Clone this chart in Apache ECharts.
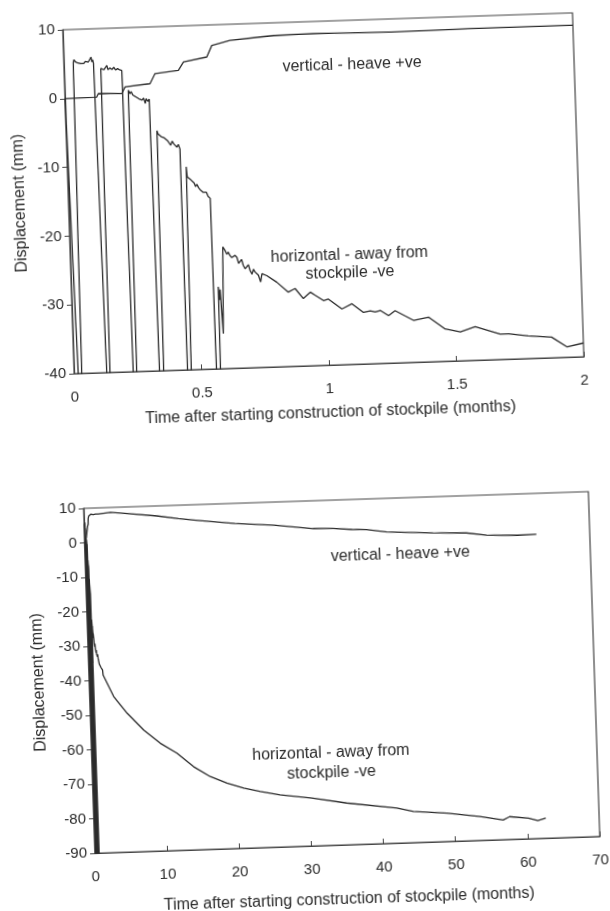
<!DOCTYPE html>
<html>
<head>
<meta charset="utf-8">
<script src="https://cdn.jsdelivr.net/npm/echarts@6/dist/echarts.min.js"></script>
<style>
  html, body { margin: 0; padding: 0; background: #fff; overflow: hidden; }
  /* the scanned page is slightly skewed, so the whole figure is turned a little */
  #chart { width: 610px; height: 911px; transform: rotate(-1.9deg); }
</style>
</head>
<body>
<div id="chart"></div>
<script>
// first 2 months (upper chart)
const topVertT = [0, 0.124, 0.131, 0.223, 0.237, 0.335, 0.356, 0.448, 0.469, 0.561, 0.582, 0.654, 0.773, 0.827, 0.98, 1.287, 1.594, 1.825, 2.0];
const topVertV = [0, 0.05, 0.55, 0.45, 1.4, 1.75, 3.2, 3.55, 4.75, 5.35, 7.0, 7.65, 8.0, 8.15, 8.25, 8.1, 8.2, 8.2, 8.2];

const topHorT = [0, 0.04, 0.02,
  0.037, 0.04, 0.045, 0.05, 0.055, 0.06, 0.066, 0.072, 0.078, 0.084, 0.09, 0.096, 0.102, 0.107, 0.11, 0.113, 0.116,
  0.144, 0.136,
  0.144, 0.15, 0.156, 0.162, 0.168, 0.172, 0.18, 0.188, 0.195, 0.202, 0.21, 0.218, 0.226,
  0.24, 0.247,
  0.249, 0.255, 0.26, 0.266, 0.272, 0.278, 0.284, 0.29, 0.296, 0.302, 0.308, 0.314, 0.318, 0.324, 0.33, 0.333,
  0.343, 0.345,
  0.356, 0.36, 0.366, 0.372, 0.378, 0.384, 0.39, 0.396, 0.402, 0.408, 0.414, 0.42, 0.426, 0.432, 0.438, 0.444,
  0.447, 0.451,
  0.466, 0.469, 0.475, 0.482, 0.489, 0.495, 0.5, 0.506, 0.512, 0.518, 0.524, 0.53, 0.536, 0.542, 0.548, 0.556,
  0.565, 0.566,
  0.576, 0.58, 0.583, 0.59, 0.599,
  0.607, 0.614, 0.62, 0.626, 0.633, 0.639, 0.646, 0.653, 0.659, 0.665, 0.671, 0.677, 0.684, 0.691, 0.697, 0.703,
  0.71, 0.716, 0.722, 0.729, 0.735, 0.743, 0.749, 0.755, 0.768, 0.806, 0.85, 0.877, 0.908, 0.936, 0.955, 0.987,
  1.006, 1.058, 1.098, 1.142, 1.169, 1.188, 1.208, 1.24, 1.266, 1.337, 1.396, 1.46, 1.519, 1.578, 1.675, 1.708,
  1.785, 1.876, 1.936, 2.0];
const topHorV = [0, -100, -100,
  5.2, 5.6, 5.3, 5.5, 5.1, 5.3, 5.0, 5.2, 5.0, 5.3, 5.1, 5.2, 5.0, 5.9, 5.2, 5.5, 5.0,
  -100, -100,
  4.2, 4.3, 4.0, 4.1, 4.6, 4.0, 4.2, 4.0, 4.3, 3.9, 4.1, 3.9, 3.8,
  -100, -100,
  0.9, 0.4, 0.7, 0.2, 0.4, -0.1, 0.1, -0.4, -0.2, -0.6, -0.3, -1.1, -0.4, -0.8, -0.5, -0.7,
  -100, -100,
  -5.1, -5.6, -5.4, -6.0, -5.8, -6.2, -6.1, -6.6, -6.4, -7.3, -6.7, -7.1, -6.9, -7.6, -7.2, -7.9,
  -100, -100,
  -10.5, -12.0, -12.2, -12.4, -12.6, -12.9, -13.4, -13.1, -13.6, -13.9, -14.0, -14.3, -14.5, -14.3, -14.9, -15.2,
  -100, -100,
  -28.1, -30.0, -28.5, -34.9, -22.3,
  -22.8, -23.4, -23.1, -23.6, -23.9, -24.1, -23.6, -23.9, -24.8, -24.6, -24.2, -25.1, -25.6, -25.4, -25.0, -25.9,
  -26.4, -25.7, -26.1, -26.3, -26.6, -27.6, -26.4, -26.4, -26.7, -27.7, -29.2, -28.7, -30.2, -29.3, -29.8, -30.6,
  -30.4, -31.9, -31.2, -32.5, -32.3, -32.5, -32.3, -33.1, -32.4, -33.9, -33.5, -35.3, -35.8, -35.1, -36.3, -36.3,
  -36.7, -37.0, -38.5, -38.0];

// after 2 months (lower chart continues the same records)
const longVertT = [3.7, 6.0, 10.1, 13.1, 15.5, 20.9, 26.3, 31.7, 34.5, 37.1, 39.1, 41.9, 48.3, 52.9, 55.7, 59.9, 62.6];
const longVertV = [8.6, 8.1, 7.1, 6.1, 5.5, 4.15, 3.3, 1.95, 1.75, 1.3, 1.1, 0.25, -0.45, -0.8, -1.65, -1.95, -1.85];

const longHorT = [3.3, 5.1, 7.3, 9.55, 11.8, 14.05, 16.3, 18.6, 20.9, 23.2, 25.9, 30.3, 35.1, 42.0, 44.3, 48.9, 53.5, 56.7, 57.6, 60.2, 61.5, 62.6];
const longHorV = [-44.8, -49.8, -54.8, -58.8, -61.8, -65.9, -68.9, -71.0, -72.6, -73.7, -74.9, -76.1, -77.9, -79.8, -81.0, -81.8, -83.1, -84.3, -83.4, -84.0, -84.8, -84.2];

// axis ranges / tick steps
const topX = [0, 2, 0.5];
const topY = [-40, 10, 10];
const botX = [0, 70, 10];
const botY = [-90, 10, 10];

const xName = 'Time after starting construction of stockpile (months)';
const yName = 'Displacement (mm)';

const zip = (t, v) => t.map((x, i) => [x, v[i]]);
const font = 'Liberation Sans';
const ink = '#2b2b2b';

const myChart = echarts.init(document.getElementById('chart'));

function xAx(grid, r, gap) {
  return {
    type: 'value', gridIndex: grid, min: r[0], max: r[1], interval: r[2],
    name: xName, nameLocation: 'middle', nameGap: gap,
    nameTextStyle: { fontFamily: font, fontSize: 16, color: ink },
    axisLine: { onZero: false, lineStyle: { color: '#444', width: 1.2 } },
    axisTick: { inside: true, length: 5, lineStyle: { color: '#444' } },
    axisLabel: { margin: 16, fontFamily: font, fontSize: 15, color: ink },
    splitLine: { show: false }
  };
}
function yAx(grid, r, gap) {
  return {
    type: 'value', gridIndex: grid, min: r[0], max: r[1], interval: r[2],
    name: yName, nameLocation: 'middle', nameGap: gap,
    nameTextStyle: { fontFamily: font, fontSize: 16, color: ink },
    axisLine: { show: true, onZero: false, lineStyle: { color: '#444', width: 1.2 } },
    axisTick: { show: true, length: 5, lineStyle: { color: '#444' } },
    axisLabel: { margin: 8, fontFamily: font, fontSize: 15, color: ink },
    splitLine: { show: false }
  };
}
function line(grid, data) {
  return {
    type: 'line', xAxisIndex: grid, yAxisIndex: grid, data: data,
    showSymbol: false, symbol: 'none', clip: true,
    lineStyle: { color: ink, width: 1.3 }
  };
}
function label(x, y, text) {
  return { type: 'text', x: x, y: y,
    style: { text: text, fontFamily: font, fontSize: 16, fill: ink, align: 'center', verticalAlign: 'middle' } };
}

const option = {
  animation: false,
  backgroundColor: '#fff',
  grid: [
    { left: 77, top: 22, width: 510, height: 344, show: true, borderColor: '#444', borderWidth: 1.2 },
    { left: 82, top: 501, width: 505, height: 345, show: true, borderColor: '#444', borderWidth: 1.2 }
  ],
  xAxis: [xAx(0, topX, 40), xAx(1, botX, 47)],
  yAxis: [yAx(0, topY, 38), yAx(1, botY, 42)],
  series: [
    line(0, zip(topVertT, topVertV)),
    line(0, zip(topHorT, topHorV)),
    line(1, zip(topVertT.concat(longVertT), topVertV.concat(longVertV))),
    line(1, zip(topHorT.concat(longHorT), topHorV.concat(longHorV)))
  ],
  graphic: [
    label(365, 67, 'vertical - heave +ve'),
    label(356, 257, 'horizontal - away from'),
    label(356, 275, 'stockpile -ve'),
    label(397, 558, 'vertical - heave +ve'),
    label(321, 754, 'horizontal - away from'),
    label(321, 774, 'stockpile -ve')
  ]
};

myChart.setOption(option);
window.addEventListener('resize', function () {
  myChart.resize();
});
</script>
</body>
</html>
